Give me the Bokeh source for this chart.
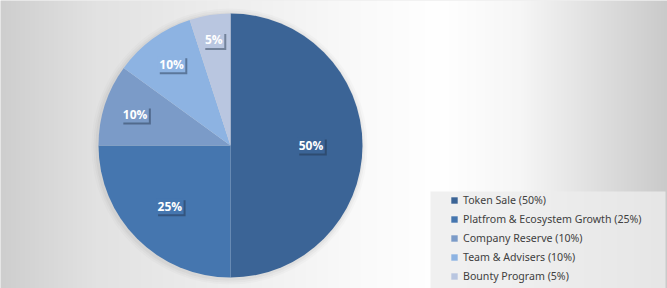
import numpy as np
from bokeh.plotting import figure
from bokeh.models import ColumnDataSource, Legend, LegendItem
from bokeh.core.properties import value
from bokeh.embed import file_html
from bokeh.resources import INLINE

# ---- data ----
categories = ["Token Sale", "Platfrom & Ecosystem Growth", "Company Reserve",
              "Team & Advisers", "Bounty Program"]
shares = [50, 25, 10, 10, 5]
colors = ["#3b6496", "#4576af", "#7b9bc8", "#8db3e2", "#b9c6e0"]
label_dist = [0.61, 0.65, 0.76, 0.76, 0.81]   # label radial position (fraction of radius)

W, H = 667, 288
cx, cy, R = 230, 143, 132

p = figure(width=W, height=H, x_range=(0, W), y_range=(0, H),
           output_backend="svg", toolbar_location=None, min_border=0)
p.axis.visible = False
p.grid.visible = False
p.outline_line_color = None
p.background_fill_color = "#e0e0e0"
p.border_fill_color = "#e0e0e0"

# background gradient (horizontal)
xs = np.arange(W)
gx = np.interp(xs, [0, 95, 360, 440, 520, 667], [206, 226, 250, 255, 246, 202])
gray = np.tile(gx, (H, 1)).astype(np.uint32)
img = (255 << 24) | (gray << 16) | (gray << 8) | gray
p.image_rgba(image=[img.astype(np.uint32)], x=0, y=0, dw=W, dh=H)

# soft shadow around pie
for k, a in zip([6, 4, 2], [0.04, 0.06, 0.08]):
    p.circle(x=cx - 1, y=cy - 1, radius=R + k, fill_color="#808080",
             fill_alpha=a, line_color=None)

# pie slices
fr = np.array(shares) / sum(shares)
cum = np.concatenate([[0], np.cumsum(fr)])
start = np.pi / 2 - 2 * np.pi * cum[:-1]
end = np.pi / 2 - 2 * np.pi * cum[1:]
mid = (start + end) / 2
src = ColumnDataSource(dict(start=start, end=end, color=colors,
                            label=[f"{c} ({s}%)" for c, s in zip(categories, shares)]))
wr = p.wedge(x=cx, y=cy, radius=R, start_angle="start", end_angle="end",
             direction="clock", fill_color="color", line_color=None, source=src)

# data labels
lx = cx + np.array(label_dist) * R * np.cos(mid)
ly = cy + np.array(label_dist) * R * np.sin(mid)
texts = [f"{s}%" for s in shares]
bw = [8 + 6.5 * len(t) for t in texts]
lab = ColumnDataSource(dict(x=lx, y=ly, xs=lx + 2, ys=ly - 2, w=bw, t=texts, color=colors))
p.rect(x="xs", y="ys", width="w", height=16, fill_color="#1f2f45", fill_alpha=0.45,
       line_color=None, source=lab)
p.rect(x="x", y="y", width="w", height=16, fill_color="color", line_color=None, source=lab)
p.text(x="x", y="y", text="t", text_color="white", text_font=value("Open Sans"),
       text_font_style="bold", text_font_size="12px", text_align="center",
       text_baseline="middle", source=lab)

# legend box
p.quad(left=430, right=665, bottom=0, top=H - 191, fill_color="#ececec",
       fill_alpha=0.8, line_color=None)

items = [LegendItem(label=src.data["label"][i], renderers=[wr], index=i)
         for i in range(len(categories))]
legend = Legend(items=items, location=(450, 5), orientation="vertical",
                padding=4, margin=0, spacing=5, glyph_width=8, glyph_height=8,
                label_height=13, label_standoff=5, label_text_font="Noto Sans",
                label_text_font_size="10.6px", label_text_color="#404040",
                background_fill_alpha=0, border_line_color=None)
p.add_layout(legend, "center")

open("out.html", "w").write(file_html(p, INLINE))
